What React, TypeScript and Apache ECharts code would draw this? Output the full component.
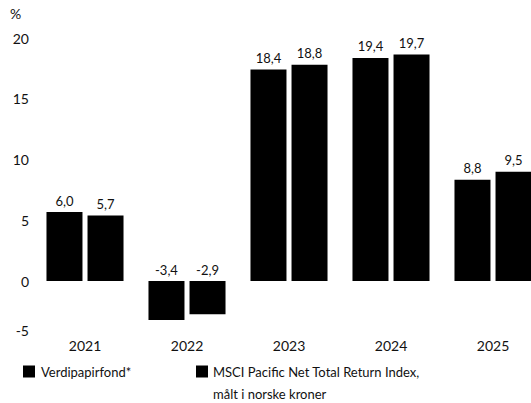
import React, { useEffect, useRef } from "react";
import * as echarts from "echarts";

const YEARS = ["2021", "2022", "2023", "2024", "2025"];
const FUND = [6.0, -3.4, 18.4, 19.4, 8.8];
const INDEX = [5.7, -2.9, 18.8, 19.7, 9.5];
const FUND_NAME = "Verdipapirfond*";
const INDEX_NAME = "MSCI Pacific Net Total Return Index, målt i norske kroner";
const INDEX_LINE1 = "MSCI Pacific Net Total Return Index,";
const INDEX_LINE2 = "målt i norske kroner";
const Y_TICK_VALUES = [-4.03, 0, 5, 10, 15, 20];
const Y_TICK_LABELS = ["-5", "0", "5", "10", "15", "20"];

const FONT = "Lato, 'Noto Sans', sans-serif";
const TXT = "#111";

export default function App() {
  const ref = useRef<HTMLDivElement>(null);
  useEffect(() => {
    if (!ref.current) return;
    const chart = echarts.init(ref.current, undefined, { renderer: "svg" });
    const fmt = (p: any) => Number(p.value).toFixed(1).replace(".", ",");
    const label = {
      show: true,
      position: "top",
      distance: 5,
      color: TXT,
      fontSize: 13,
      fontFamily: FONT,
      formatter: fmt,
    };
    chart.setOption({
      animation: false,
      textStyle: { fontFamily: FONT },
      grid: { left: 34, width: 510, top: 38, height: 292, containLabel: false },
      xAxis: {
        type: "category",
        data: YEARS,
        axisLine: { show: false, onZero: false },
        axisTick: { show: false },
        axisLabel: { color: TXT, fontSize: 14, fontFamily: FONT, margin: 8 },
      },
      yAxis: [
        {
          type: "value",
          min: -4.03,
          max: 20,
          splitLine: { show: false },
          axisLine: { show: false },
          axisTick: { show: false },
          axisLabel: {
            color: TXT,
            fontSize: 14,
            fontFamily: FONT,
            margin: 5,
            customValues: Y_TICK_VALUES,
            formatter: (v: number) => {
              const i = Y_TICK_VALUES.findIndex((t) => Math.abs(t - v) < 1e-6);
              return i >= 0 ? Y_TICK_LABELS[i] : "";
            },
          },
        },
        {
          type: "value",
          min: -4.26,
          max: 21.13,
          show: false,
          splitLine: { show: false },
        },
      ],
      legend: [
        {
          data: [FUND_NAME],
          left: 23,
          top: 365,
          padding: 0,
          icon: "rect",
          itemWidth: 12,
          itemHeight: 12,
          itemGap: 6,
          selectedMode: false,
          textStyle: { color: TXT, fontSize: 13, fontFamily: FONT, padding: [0, 0, 0, 1] },
        },
        {
          data: [INDEX_NAME],
          left: 196,
          top: 365,
          padding: 0,
          icon: "rect",
          itemWidth: 12,
          itemHeight: 12,
          selectedMode: false,
          formatter: () => INDEX_LINE1,
          textStyle: { color: TXT, fontSize: 13, fontFamily: FONT },
        },
      ],
      graphic: [
        {
          type: "text",
          left: 10,
          top: 6,
          style: { text: "%", fill: TXT, fontSize: 14, fontFamily: FONT },
        },
        {
          type: "text",
          left: 213,
          top: 387,
          style: { text: INDEX_LINE2, fill: TXT, fontSize: 13, fontFamily: FONT },
        },
      ],
      series: [
        {
          name: FUND_NAME,
          type: "bar",
          yAxisIndex: 1,
          data: FUND,
          barWidth: 36,
          barGap: "14%",
          itemStyle: { color: "#000" },
          label,
        },
        {
          name: INDEX_NAME,
          type: "bar",
          yAxisIndex: 1,
          data: INDEX,
          barWidth: 36,
          barGap: "14%",
          itemStyle: { color: "#000" },
          label,
        },
      ],
    });
    return () => chart.dispose();
  }, []);
  return (
    <div
      style={{
        position: "absolute",
        left: 0,
        top: 0,
        width: 531,
        height: 403,
        overflow: "hidden",
      }}
    >
      <div ref={ref} style={{ width: 546, height: 403 }} />
    </div>
  );
}
